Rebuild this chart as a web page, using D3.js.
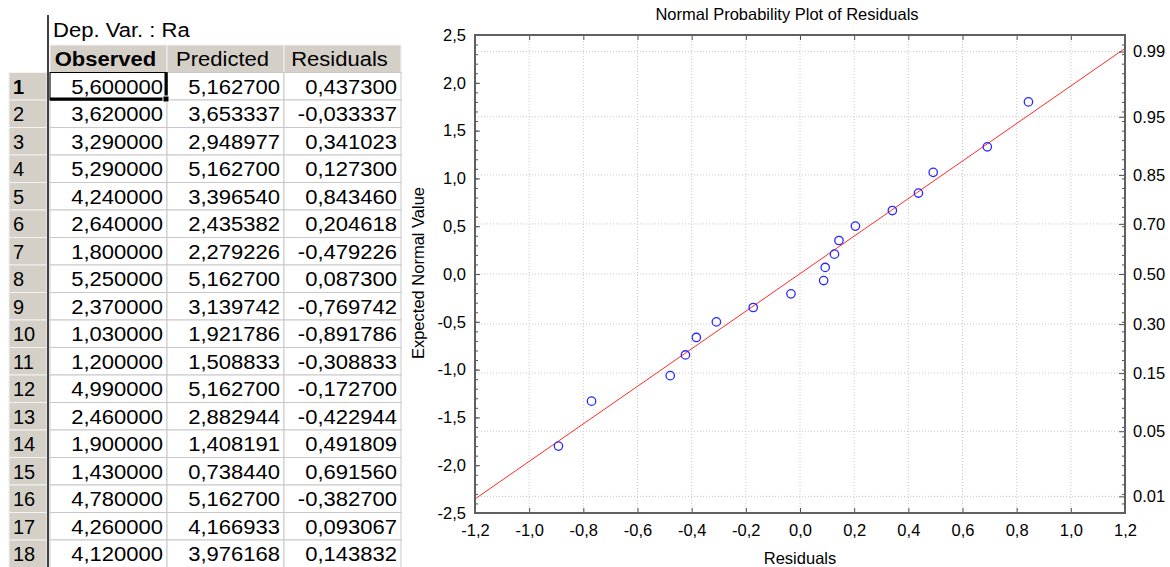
<!DOCTYPE html>
<html>
<head>
<meta charset="utf-8">
<script src="https://cdn.jsdelivr.net/npm/d3@7"></script>
<style>
  body { margin: 0; background: #fff; }
  svg { display: block; }
  text { font-family: "Liberation Sans", Arial, sans-serif; fill: #000; }
</style>
</head>
<body>
<svg id="chart" width="1170" height="567"></svg>
<script>
// table values
const rowIds = [1, 2, 3, 4, 5, 6, 7, 8, 9, 10, 11, 12, 13, 14, 15, 16, 17, 18];
const columns = ['Observed', 'Predicted', 'Residuals'];
const observed = [5.6, 3.62, 3.29, 5.29, 4.24, 2.64, 1.8, 5.25, 2.37, 1.03, 1.2, 4.99, 2.46, 1.9, 1.43, 4.78, 4.26, 4.12];
const predicted = [5.1627, 3.653337, 2.948977, 5.1627, 3.39654, 2.435382, 2.279226, 5.1627, 3.139742, 1.921786,
  1.508833, 5.1627, 2.882944, 1.408191, 0.73844, 5.1627, 4.166933, 3.976168];
const residuals = [0.4373, -0.033337, 0.341023, 0.1273, 0.84346, 0.204618, -0.479226, 0.0873, -0.769742, -0.891786,
  -0.308833, -0.1727, -0.422944, 0.491809, 0.69156, -0.3827, 0.093067, 0.143832];

// expected normal value of each residual (row order)
const expectedNormal = [0.8466, -0.2075, 0.6637, 0.2075, 1.80, 0.5009, -1.0631, -0.0687, -1.33, -1.80,
  -0.5009, -0.3503, -0.8466, 1.0631, 1.33, -0.6637, 0.0687, 0.3503];

// fitted line end points
const fitX = [-1.2, 1.2];
const fitY = [-2.353, 2.36];

// axis ticks
const xTicks = [-1.2, -1.0, -0.8, -0.6, -0.4, -0.2, 0, 0.2, 0.4, 0.6, 0.8, 1.0, 1.2];
const yTicks = [-2.5, -2.0, -1.5, -1.0, -0.5, 0, 0.5, 1.0, 1.5, 2.0, 2.5];
const probTicks = [0.01, 0.05, 0.15, 0.30, 0.50, 0.70, 0.85, 0.95, 0.99];

const locale = d3.formatLocale({ decimal: ',', thousands: '.', grouping: [3], currency: ['', ''], minus: '-' });
const fmtCell = locale.format('.6f');
const fmtTick = locale.format('.1f');
const fmtProb = d3.format('.2f');

// inverse normal cdf (Acklam)
function probit(p) {
  const a = [-39.69683028665376, 220.9460984245205, -275.9285104469687, 138.357751867269, -30.66479806614716, 2.506628277459239];
  const b = [-54.47609879822406, 161.5858368580409, -155.6989798598866, 66.80131188771972, -13.28068155288572];
  const c = [-0.007784894002430293, -0.3223964580411365, -2.400758277161838, -2.549732539343734, 4.374664141464968, 2.938163982698783];
  const d = [0.007784695709041462, 0.3224671290700398, 2.445134137142996, 3.754408661907416];
  const lo = 0.02425;
  if (p < lo || p > 1 - lo) {
    const q = Math.sqrt(-2 * Math.log(p < lo ? p : 1 - p));
    const v = (((((c[0] * q + c[1]) * q + c[2]) * q + c[3]) * q + c[4]) * q + c[5])
      / ((((d[0] * q + d[1]) * q + d[2]) * q + d[3]) * q + 1);
    return p < lo ? v : -v;
  }
  const q = p - 0.5;
  const r = q * q;
  return (((((a[0] * r + a[1]) * r + a[2]) * r + a[3]) * r + a[4]) * r + a[5]) * q
    / (((((b[0] * r + b[1]) * r + b[2]) * r + b[3]) * r + b[4]) * r + 1);
}

const svg = d3.select('#chart');

/* ---------- spreadsheet ---------- */
const table = svg.append('g').attr('class', 'table');
const colX = d3.scaleBand().domain(columns).range([50, 401]);
const rowY = d3.scaleBand().domain(rowIds).range([72.5, 567.5]);
const headTop = 45;
const stretch = 1.13;

const cellText = (sel, xPos, yPos, anchor) => sel
  .attr('transform', `translate(${xPos},${yPos}) scale(${stretch},1)`)
  .attr('text-anchor', anchor)
  .attr('font-size', 19.5);

table.append('text')
  .call(cellText, 53, 37, 'start')
  .text('Dep. Var. : Ra');

// column headers
const head = table.selectAll('g.head')
  .data(columns)
  .enter()
  .append('g')
  .attr('class', 'head');

head.append('rect')
  .attr('x', d => colX(d))
  .attr('y', headTop)
  .attr('width', colX.bandwidth())
  .attr('height', rowY.bandwidth())
  .attr('fill', '#d4d0c8')
  .attr('stroke', '#f2f2f2');

head.append('text')
  .each(function (d) {
    d3.select(this).call(cellText, colX(d) + colX.bandwidth() / 2 - 3, headTop + 21, 'middle');
  })
  .attr('font-weight', (d, i) => (i === 0 ? 'bold' : 'normal'))
  .text(d => d);

table.append('line')
  .attr('x1', 50).attr('x2', 401)
  .attr('y1', 72.5).attr('y2', 72.5)
  .attr('stroke', '#a0a0a0');

// rows
const values = [observed, predicted, residuals];
const rows = table.selectAll('g.row')
  .data(rowIds)
  .enter()
  .append('g')
  .attr('class', 'row');

rows.append('rect')
  .attr('x', 9)
  .attr('y', d => rowY(d))
  .attr('width', 38)
  .attr('height', rowY.bandwidth())
  .attr('fill', '#d4d0c8')
  .attr('stroke', '#f2f2f2');

rows.append('text')
  .attr('x', 13)
  .attr('y', d => rowY(d) + 21)
  .attr('font-size', 20)
  .attr('font-weight', d => (d === 1 ? 'bold' : 'normal'))
  .text(d => d);

rows.each(function (id, i) {
  const g = d3.select(this);
  columns.forEach((col, c) => {
    g.append('rect')
      .attr('x', colX(col))
      .attr('y', rowY(id))
      .attr('width', colX.bandwidth())
      .attr('height', rowY.bandwidth())
      .attr('fill', '#fff')
      .attr('stroke', '#c8c8c8');
    g.append('text')
      .call(cellText, colX(col) + colX.bandwidth() - 4, rowY(id) + 21, 'end')
      .text(fmtCell(values[c][i]));
  });
});

// active cell
const active = { x: colX(columns[0]), y: rowY(rowIds[0]), w: colX.bandwidth(), h: rowY.bandwidth() };
table.append('rect')
  .attr('x', active.x).attr('y', active.y)
  .attr('width', active.w).attr('height', active.h)
  .attr('fill', 'none')
  .attr('stroke', '#000');
table.append('path')
  .attr('d', `M${active.x},${active.y + active.h - 1}H${active.x + active.w - 1}V${active.y}`)
  .attr('fill', 'none')
  .attr('stroke', '#000')
  .attr('stroke-width', 3);
table.append('rect')
  .attr('x', active.x + active.w - 4).attr('y', active.y + active.h - 4)
  .attr('width', 6).attr('height', 6)
  .attr('fill', '#000')
  .attr('stroke', '#fff');

table.append('line')
  .attr('x1', 48).attr('x2', 48)
  .attr('y1', 15).attr('y2', 567)
  .attr('stroke', '#404040')
  .attr('stroke-width', 2);

/* ---------- normal probability plot ---------- */
const plot = { left: 475, right: 1125, top: 35, bottom: 513 };
const x = d3.scaleLinear().domain([-1.2, 1.2]).range([plot.left, plot.right]);
const y = d3.scaleLinear().domain([-2.5, 2.5]).range([plot.bottom, plot.top]);
const yMinor = d3.range(-25, 26).map(v => v / 10);

const chart = svg.append('g').attr('class', 'plot');

// grid
chart.append('g')
  .selectAll('line')
  .data(xTicks.slice(1, -1))
  .enter()
  .append('line')
  .attr('x1', d => x(d)).attr('x2', d => x(d))
  .attr('y1', plot.top).attr('y2', plot.bottom)
  .attr('stroke', '#c8c8c8')
  .attr('stroke-dasharray', '1,2');

chart.append('g')
  .selectAll('line')
  .data(probTicks)
  .enter()
  .append('line')
  .attr('x1', plot.left).attr('x2', plot.right)
  .attr('y1', d => y(probit(d))).attr('y2', d => y(probit(d)))
  .attr('stroke', '#c8c8c8')
  .attr('stroke-dasharray', '1,2');

// fitted line
chart.append('line')
  .attr('x1', x(fitX[0])).attr('y1', y(fitY[0]))
  .attr('x2', x(fitX[1])).attr('y2', y(fitY[1]))
  .attr('stroke', '#ff2a2a')
  .attr('stroke-width', 1);

// points
chart.append('g')
  .selectAll('circle')
  .data(residuals.map((r, i) => ({ r, z: expectedNormal[i] })))
  .enter()
  .append('circle')
  .attr('cx', d => x(d.r))
  .attr('cy', d => y(d.z))
  .attr('r', 4.2)
  .attr('fill', 'none')
  .attr('stroke', '#2828ff')
  .attr('stroke-width', 1.3);

// axes
const styleAxis = (g) => {
  g.select('.domain').remove();
  g.selectAll('line').attr('stroke', '#505050');
  g.selectAll('text').attr('font-size', 16.5).attr('fill', '#000');
  g.attr('font-family', null);
};

chart.append('g')
  .attr('transform', `translate(0,${plot.bottom})`)
  .call(d3.axisBottom(x).tickValues(xTicks).tickSize(-5).tickSizeOuter(0).tickPadding(11).tickFormat(fmtTick))
  .call(styleAxis);

chart.append('g')
  .attr('transform', `translate(0,${plot.top})`)
  .call(d3.axisTop(x).tickValues(xTicks).tickSize(-5).tickSizeOuter(0).tickFormat(''))
  .call(styleAxis);

chart.append('g')
  .attr('transform', `translate(${plot.left},0)`)
  .call(d3.axisLeft(y).tickValues(yTicks).tickSize(-5).tickSizeOuter(0).tickPadding(9).tickFormat(fmtTick))
  .call(styleAxis);

chart.append('g')
  .attr('transform', `translate(${plot.left},0)`)
  .call(d3.axisLeft(y).tickValues(yMinor).tickSize(-3).tickSizeOuter(0).tickFormat(''))
  .call(styleAxis);

chart.append('g')
  .attr('transform', `translate(${plot.right},0)`)
  .call(d3.axisRight(y).tickValues(yMinor).tickSize(-3).tickSizeOuter(0).tickFormat(''))
  .call(styleAxis);

chart.append('g')
  .attr('transform', `translate(${plot.right},0)`)
  .call(d3.axisRight(y).tickValues(probTicks.map(probit)).tickSize(-6).tickSizeOuter(0).tickPadding(8)
    .tickFormat((d, i) => fmtProb(probTicks[i])))
  .call(styleAxis);

// frame
chart.append('rect')
  .attr('x', plot.left).attr('y', plot.top)
  .attr('width', plot.right - plot.left)
  .attr('height', plot.bottom - plot.top)
  .attr('fill', 'none')
  .attr('stroke', '#606060')
  .attr('stroke-width', 2);

// titles
chart.append('text')
  .attr('x', 787).attr('y', 20)
  .attr('text-anchor', 'middle')
  .attr('font-size', 16.5)
  .text('Normal Probability Plot of Residuals');

chart.append('text')
  .attr('x', 800).attr('y', 564)
  .attr('text-anchor', 'middle')
  .attr('font-size', 16.5)
  .text('Residuals');

chart.append('text')
  .attr('transform', 'translate(424,273) rotate(-90)')
  .attr('text-anchor', 'middle')
  .attr('font-size', 16.5)
  .text('Expected Normal Value');
</script>
</body>
</html>
